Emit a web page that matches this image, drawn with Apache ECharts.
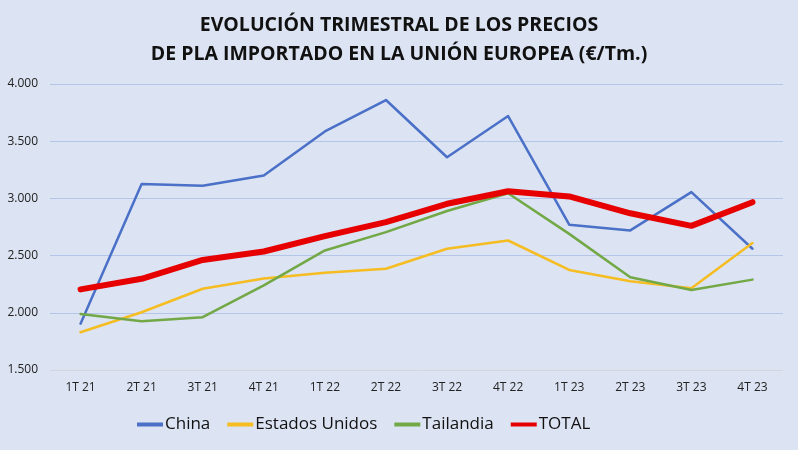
<!DOCTYPE html>
<html>
<head>
<meta charset="utf-8">
<script src="https://cdn.jsdelivr.net/npm/echarts@6/dist/echarts.min.js"></script>
<style>
  html, body { margin: 0; padding: 0; background: #dce3f2; }
  #chart { width: 798px; height: 450px; }
</style>
</head>
<body>
<div id="chart"></div>
<script>
const categories = ['1T 21', '2T 21', '3T 21', '4T 21', '1T 22', '2T 22', '3T 22', '4T 22', '1T 23', '2T 23', '3T 23', '4T 23'];
const china = [1905, 3125, 3110, 3200, 3585, 3860, 3360, 3720, 2770, 2720, 3055, 2560];
const estadosUnidos = [1830, 2005, 2210, 2300, 2350, 2385, 2560, 2632, 2375, 2275, 2215, 2610];
const tailandia = [1990, 1927, 1962, 2240, 2545, 2705, 2890, 3045, 2690, 2310, 2200, 2290];
const total = [2205, 2297, 2462, 2536, 2670, 2792, 2953, 3063, 3017, 2870, 2760, 2967];

const FONT = '"Open Sans", "Noto Sans", sans-serif';

function fmt(v) {
    return String(v).replace(/\B(?=(\d{3})+(?!\d))/g, '.');
}

function lineSeries(name, data, color, width) {
    return {
        name: name,
        type: 'line',
        data: data,
        symbol: 'none',
        lineStyle: { color: color, width: width, cap: 'round', join: 'round' },
        itemStyle: { color: color }
    };
}

const chart = echarts.init(document.getElementById('chart'));
chart.setOption({
    backgroundColor: '#dce3f2',
    animation: false,
    title: {
        text: 'EVOLUCIÓN TRIMESTRAL DE LOS PRECIOS\nDE PLA IMPORTADO EN LA UNIÓN EUROPEA (€/Tm.)',
        left: 'center',
        top: 6,
        textStyle: { fontFamily: FONT, fontSize: 19.5, fontWeight: 'bold', color: '#111', lineHeight: 29 }
    },
    legend: {
        bottom: 12,
        left: 132,
        itemWidth: 26,
        itemHeight: 4,
        itemGap: 17,
        icon: 'rect',
        textStyle: { fontFamily: FONT, fontSize: 17, color: '#111', padding: [0, 0, 0, -3] },
        data: ['China', 'Estados Unidos', 'Tailandia', 'TOTAL']
    },
    grid: { left: 50, right: 15, top: 84, bottom: 80 },
    xAxis: {
        type: 'category',
        data: categories,
        boundaryGap: true,
        axisLine: { show: false },
        axisTick: { show: false },
        axisLabel: { fontFamily: FONT, fontSize: 12, color: '#222', margin: 12 }
    },
    yAxis: {
        type: 'value',
        min: 1500,
        max: 4000,
        interval: 500,
        axisLine: { show: false },
        axisTick: { show: false },
        axisLabel: { fontFamily: FONT, fontSize: 12, color: '#222', margin: 12, formatter: fmt },
        splitLine: { lineStyle: { color: ['#d3d6df', '#b4c6e8', '#b4c6e8', '#b4c6e8', '#b4c6e8', '#b4c6e8'], width: 1 } }
    },
    series: [
        lineSeries('China', china, '#4a70c8', 2.5),
        lineSeries('Estados Unidos', estadosUnidos, '#f5bd22', 2.5),
        lineSeries('Tailandia', tailandia, '#72a846', 2.5),
        lineSeries('TOTAL', total, '#e60000', 6)
    ]
});
</script>
</body>
</html>
